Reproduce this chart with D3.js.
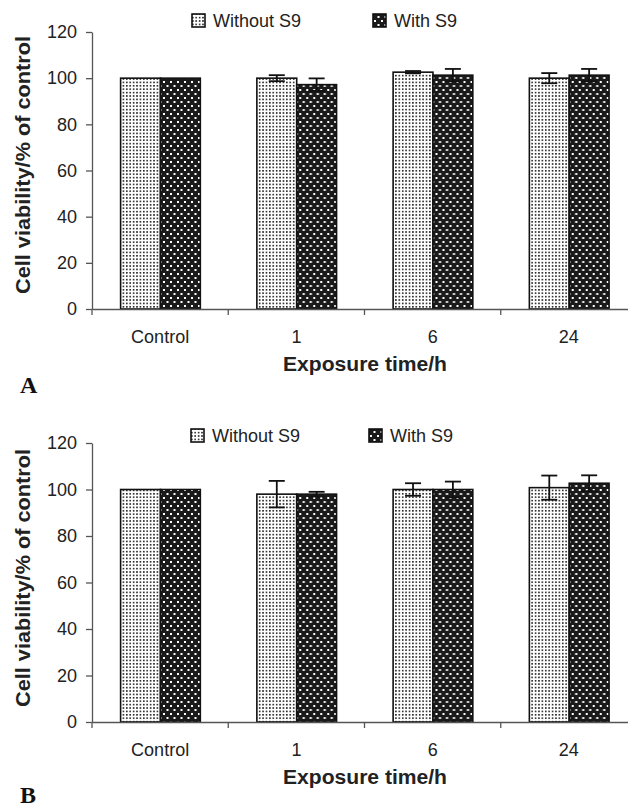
<!DOCTYPE html>
<html>
<head>
<meta charset="utf-8">
<script src="https://cdn.jsdelivr.net/npm/d3@7"></script>
<style>
  body { margin: 0; background: #fff; }
  svg { display: block; font-family: "Liberation Sans", Arial, sans-serif; }
</style>
</head>
<body>
<svg id="chart" width="628" height="809"></svg>
<script>
// Cell viability, two panels (A, B), bars with/without S9

const categories = ['Control', '1', '6', '24'];
const seriesNames = ['Without S9', 'With S9'];
const yTicks = [0, 20, 40, 60, 80, 100, 120];

// panel A
const aWithout    = [100, 100, 102.6, 100];
const aWithoutErr = [0, 1.3, 0.5, 2.2];
const aWith       = [100, 97.2, 101.3, 101.3];
const aWithErr    = [0, 2.7, 2.7, 2.7];

// panel B
const bWithout    = [100, 98, 100, 100.8];
const bWithoutErr = [0, 5.7, 2.7, 5.2];
const bWith       = [100, 98, 100, 102.7];
const bWithErr    = [0, 1, 3.4, 3.4];

const svg = d3.select('#chart');

// patterns
const defs = svg.append('defs');
const light = defs.append('pattern')
    .attr('id', 'pat-light')
    .attr('patternUnits', 'userSpaceOnUse')
    .attr('width', 3.4).attr('height', 3.4);
light.append('rect').attr('width', 3.4).attr('height', 3.4).attr('fill', '#fff');
light.append('rect').attr('width', 1.6).attr('height', 1.6).attr('fill', '#222');

const dark = defs.append('pattern')
    .attr('id', 'pat-dark')
    .attr('patternUnits', 'userSpaceOnUse')
    .attr('width', 7).attr('height', 8);
dark.append('rect').attr('width', 7).attr('height', 8).attr('fill', '#1a1a1a');
dark.append('rect').attr('x', 1).attr('y', 1).attr('width', 2).attr('height', 2).attr('fill', '#fff');
dark.append('rect').attr('x', 4.5).attr('y', 5).attr('width', 2).attr('height', 2).attr('fill', '#fff');

const fills = ['url(#pat-light)', 'url(#pat-dark)'];

function drawPanel(cfg) {
    const g = svg.append('g');

    const y = d3.scaleLinear().domain([0, 120]).range([cfg.y0, cfg.y120]);
    const x = d3.scaleBand().domain(categories).range([92, 637]).padding(0);
    const xs = d3.scaleBand().domain(seriesNames)
        .range([x.bandwidth() * 0.21, x.bandwidth() * 0.795]).padding(0);

    const rows = categories.map((c, i) => ({
        cat: c,
        vals: [
            { s: seriesNames[0], v: cfg.without[i], e: cfg.withoutErr[i], k: 0 },
            { s: seriesNames[1], v: cfg.with[i], e: cfg.withErr[i], k: 1 }
        ]
    }));

    // bars
    const grp = g.selectAll('g.grp')
        .data(rows)
        .join('g')
        .attr('class', 'grp')
        .attr('transform', d => `translate(${x(d.cat)},0)`);

    grp.selectAll('rect')
        .data(d => d.vals)
        .join('rect')
        .attr('x', d => xs(d.s))
        .attr('width', xs.bandwidth())
        .attr('y', d => y(d.v))
        .attr('height', d => y(0) - y(d.v))
        .attr('fill', d => fills[d.k])
        .attr('stroke', '#111')
        .attr('stroke-width', 1.6);

    // error bars
    const eb = grp.selectAll('g.err')
        .data(d => d.vals.filter(v => v.e > 0))
        .join('g')
        .attr('class', 'err')
        .attr('stroke', '#111')
        .attr('stroke-width', 1.8);
    eb.append('line')
        .attr('x1', d => xs(d.s) + xs.bandwidth() / 2)
        .attr('x2', d => xs(d.s) + xs.bandwidth() / 2)
        .attr('y1', d => y(d.v - d.e))
        .attr('y2', d => y(d.v + d.e));
    [1, -1].forEach(sg => {
        eb.append('line')
            .attr('x1', d => xs(d.s) + xs.bandwidth() / 2 - 8)
            .attr('x2', d => xs(d.s) + xs.bandwidth() / 2 + 8)
            .attr('y1', d => y(d.v + sg * d.e))
            .attr('y2', d => y(d.v + sg * d.e));
    });

    // y axis
    const ya = g.append('g')
        .attr('transform', 'translate(92,0)')
        .call(d3.axisLeft(y).tickValues(yTicks).tickSize(6).tickSizeOuter(0).tickPadding(9));
    ya.selectAll('path, line').attr('stroke', '#555').attr('stroke-width', 1.3);
    ya.selectAll('text').attr('font-size', 18).attr('fill', '#222')
        .attr('font-family', '"Liberation Sans", Arial, sans-serif');

    // x axis
    const xa = g.append('g')
        .attr('transform', `translate(0,${cfg.y0})`)
        .call(d3.axisBottom(x).tickSize(0).tickSizeOuter(0).tickPadding(21));
    xa.select('.domain').attr('stroke', '#555').attr('stroke-width', 1.3);
    xa.selectAll('text').attr('font-size', 18).attr('fill', '#222')
        .attr('font-family', '"Liberation Sans", Arial, sans-serif');
    // ticks at band boundaries
    g.append('g').selectAll('line')
        .data(categories)
        .join('line')
        .attr('x1', d => x(d)).attr('x2', d => x(d))
        .attr('y1', cfg.y0).attr('y2', cfg.y0 + 6)
        .attr('stroke', '#555').attr('stroke-width', 1.3);

    // axis titles
    g.append('text')
        .attr('transform', `translate(30,${cfg.yTitleMid}) rotate(-90)`)
        .attr('text-anchor', 'middle')
        .attr('font-size', 19.5).attr('font-weight', 'bold').attr('fill', '#222')
        .attr('textLength', 258).attr('lengthAdjust', 'spacingAndGlyphs')
        .text('Cell viability/% of control');
    g.append('text')
        .attr('x', 365).attr('y', cfg.y0 + 62)
        .attr('text-anchor', 'middle')
        .attr('font-size', 19.5).attr('font-weight', 'bold').attr('fill', '#222')
        .attr('textLength', 164).attr('lengthAdjust', 'spacingAndGlyphs')
        .text('Exposure time/h');

    // panel letter
    g.append('text')
        .attr('x', 20).attr('y', cfg.letterY)
        .attr('font-family', '"Liberation Serif", "DejaVu Serif", serif')
        .attr('font-size', 24).attr('font-weight', 'bold').attr('fill', '#111')
        .text(cfg.letter);

    // legend
    const leg = g.selectAll('g.leg')
        .data(seriesNames)
        .join('g')
        .attr('class', 'leg')
        .attr('transform', (d, i) => `translate(${cfg.legX[i]},${cfg.legY})`);
    leg.append('rect')
        .attr('x', 0).attr('y', -13)
        .attr('width', 13).attr('height', 13)
        .attr('fill', (d, i) => fills[i])
        .attr('stroke', '#111').attr('stroke-width', 1.6);
    leg.append('text')
        .attr('x', 21).attr('y', 0)
        .attr('font-size', 18).attr('fill', '#222')
        .text(d => d);
}

drawPanel({
    letter: 'A', letterY: 393, y0: 309, y120: 32, yTitleMid: 165,
    legX: [192, 373], legY: 27,
    without: aWithout, withoutErr: aWithoutErr, with: aWith, withErr: aWithErr
});

drawPanel({
    letter: 'B', letterY: 803, y0: 722, y120: 443, yTitleMid: 578,
    legX: [191, 369], legY: 442,
    without: bWithout, withoutErr: bWithoutErr, with: bWith, withErr: bWithErr
});
</script>
</body>
</html>
